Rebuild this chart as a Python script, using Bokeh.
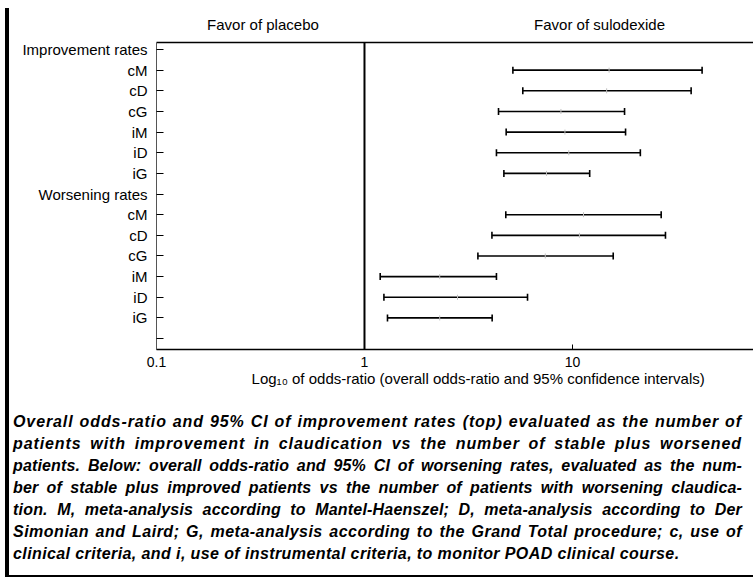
import numpy as np
from bokeh.plotting import figure
from bokeh.models import (Range1d, FixedTicker, LogAxis, Span, Whisker, TeeHead,
                          ColumnDataSource, Div, Spacer)
from bokeh.layouts import row, column
from bokeh.embed import file_html
from bokeh.resources import INLINE

# ---------------- data ----------------
row_labels = ["Improvement rates", "cM", "cD", "cG", "iM", "iD", "iG",
              "Worsening rates", "cM", "cD", "cG", "iM", "iD", "iG", ""]
methods = ["cM", "cD", "cG", "iM", "iD", "iG"]

imp_or = [15.0, 14.6, 8.8, 9.2, 9.6, 7.5]
imp_low = [5.17, 5.77, 4.41, 4.80, 4.31, 4.68]
imp_high = [42.0, 37.2, 17.8, 18.0, 21.2, 12.1]

wor_or = [11.3, 10.8, 7.4, 2.3, 2.8, 2.3]
wor_low = [4.78, 4.10, 3.51, 1.19, 1.24, 1.29]
wor_high = [26.7, 28.0, 15.7, 4.31, 6.08, 4.11]

x_ticks = [0.1, 1, 10]
x_tick_labels = ["0.1", "1", "10"]
header_labels = ["Favor of placebo", "Favor of sulodexide"]
x_title = "Log\u2081\u2080 of odds-ratio (overall odds-ratio and 95% confidence intervals)"

caption_lines = [
    "Overall odds-ratio and 95% CI of improvement rates (top) evaluated as the number of",
    "patients with improvement in claudication vs the number of stable plus worsened",
    "patients. Below: overall odds-ratio and 95% CI of worsening rates, evaluated as the num-",
    "ber of stable plus improved patients vs the number of patients with worsening claudica-",
    "tion. M, meta-analysis according to Mantel-Haenszel; D, meta-analysis according to Der",
    "Simonian and Laird; G, meta-analysis according to the Grand Total procedure; c, use of",
    "clinical criteria, and i, use of instrumental criteria, to monitor POAD clinical course.",
]

# ---------------- layout / style constants ----------------
header_x = [0.325, 13.5]
x_title_pos = 3.52
FONT = "Liberation Sans"
caption_letter_spacing = [0.9, 0.9, 0.15, 0.15, 0.2, 0.5, 0.4]

imp_start = row_labels.index("Improvement rates") + 1
wor_start = row_labels.index("Worsening rates") + 1
ys = [imp_start + i for i in range(len(methods))] + [wor_start + i for i in range(len(methods))]

src = ColumnDataSource(dict(
    y=ys,
    low=imp_low + wor_low,
    high=imp_high + wor_high,
    orr=imp_or + wor_or,
))

p = figure(width=744, height=400, x_axis_type="log",
           x_range=Range1d(0.1, 74.2), y_range=Range1d(14.53, -0.34),
           output_backend="svg", toolbar_location=None,
           min_border_left=147, min_border_right=0,
           min_border_top=34, min_border_bottom=59)
p.grid.visible = False
p.outline_line_color = None
p.background_fill_color = "white"
p.border_fill_color = "white"

p.add_layout(Span(location=1, dimension="height", line_color="black", line_width=2))

wh = Whisker(source=src, base="y", lower="low", upper="high", dimension="width",
             line_color="black", line_width=1.6,
             upper_head=TeeHead(size=7, line_width=1.6, line_color="black"),
             lower_head=TeeHead(size=7, line_width=1.6, line_color="black"))
p.add_layout(wh)
p.scatter(x="orr", y="y", source=src, marker="dash", angle=np.pi / 2, size=5,
          line_color="#c0c0c0", line_width=1)

# bottom x axis
xa = p.xaxis[0]
xa.ticker = FixedTicker(ticks=x_ticks)
xa.major_label_overrides = dict(zip(x_ticks, x_tick_labels))
xa.minor_tick_line_color = None
xa.major_tick_in = 5
xa.major_tick_out = 0
xa.axis_line_width = 1.5
xa.axis_line_color = "black"
xa.major_label_text_font = FONT
xa.major_label_text_font_size = "14px"
xa.major_label_text_color = "black"
xa.major_label_standoff = 7

# second bottom axis carrying the x title
xt = LogAxis(ticker=FixedTicker(ticks=[x_title_pos]),
             major_label_overrides={x_title_pos: x_title},
             axis_line_color=None, major_tick_in=0, major_tick_out=0,
             minor_tick_line_color=None, major_label_standoff=0,
             major_label_text_font=FONT, major_label_text_font_size="15px",
             major_label_text_color="black")
p.add_layout(xt, "below")

# top axis with headers
ta = LogAxis(ticker=FixedTicker(ticks=header_x),
             major_label_overrides=dict(zip(header_x, header_labels)),
             axis_line_color="black", axis_line_width=1.5,
             major_tick_in=0, major_tick_out=0, minor_tick_line_color=None,
             major_label_standoff=10,
             major_label_text_font=FONT, major_label_text_font_size="15px",
             major_label_text_color="black")
p.add_layout(ta, "above")

# y axis
ya = p.yaxis[0]
ya.ticker = FixedTicker(ticks=list(range(len(row_labels))))
ya.major_label_overrides = {i: lbl for i, lbl in enumerate(row_labels)}
ya.minor_tick_line_color = None
ya.major_tick_in = 7
ya.major_tick_out = 0
ya.major_tick_line_color = "black"
ya.axis_line_color = "#555555"
ya.axis_line_width = 1
ya.major_label_text_font = FONT
ya.major_label_text_font_size = "15px"
ya.major_label_text_color = "black"
ya.major_label_standoff = 9

# caption
parts = []
n = len(caption_lines)
for i, (l, ls) in enumerate(zip(caption_lines, caption_letter_spacing)):
    last = "left" if i == n - 1 else "justify"
    parts.append(
        f'<div style="text-align:{last};text-align-last:{last};'
        f'letter-spacing:{ls}px;white-space:normal;">{l}</div>'
    )
html = (
    '<div style="width:744px;height:169px;box-sizing:border-box;'
    'border-bottom:2px solid black;padding:3px 11px 0 4px;'
    f"font-family:'{FONT}',Arial,sans-serif;font-size:16px;font-weight:bold;"
    'font-style:italic;line-height:22px;color:black;">'
    + "".join(parts) + '</div>'
)
cap = Div(text=html, width=744, height=169, margin=(0, 0, 0, 0))
bar = Div(text="", width=4, height=569, margin=(0, 0, 0, 0),
          styles={"background-color": "black"})

layout = column(
    Spacer(width=753, height=8, margin=(0, 0, 0, 0)),
    row(Spacer(width=5, height=569, margin=(0, 0, 0, 0)), bar,
        column(p, cap, spacing=0), spacing=0),
    spacing=0,
)
open("out.html", "w").write(file_html(layout, INLINE))
